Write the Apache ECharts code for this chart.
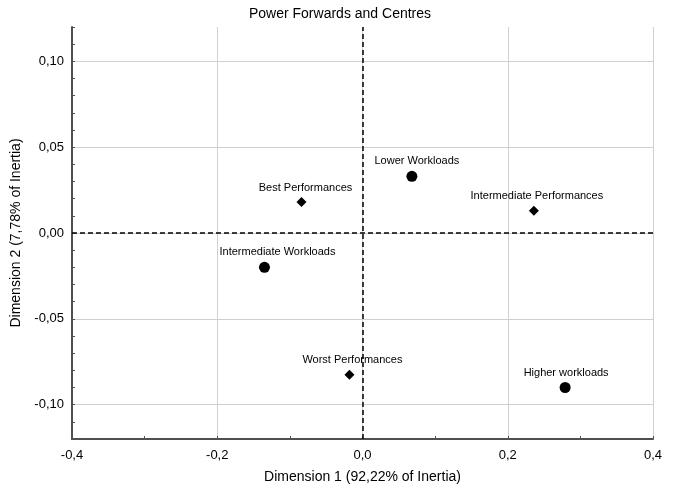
<!DOCTYPE html>
<html>
<head>
<meta charset="utf-8">
<script src="https://cdn.jsdelivr.net/npm/echarts@6/dist/echarts.min.js"></script>
<style>
  html, body { margin: 0; padding: 0; background: #fff; }
  #main { width: 680px; height: 490px; }
</style>
</head>
<body>
<div id="main"></div>
<script>
// workload categories (circles)
const workloadNames = ["Lower Workloads", "Intermediate Workloads", "Higher workloads"];
const workloadX = [0.068, -0.135, 0.279];
const workloadY = [0.033, -0.020, -0.090];

// performance categories (diamonds)
const performanceNames = ["Best Performances", "Intermediate Performances", "Worst Performances"];
const performanceX = [-0.084, 0.236, -0.018];
const performanceY = [0.018, 0.013, -0.0825];

// axis ticks
const xTicks = [-0.4, -0.2, 0, 0.2, 0.4];
const yTicks = [-0.10, -0.05, 0, 0.05, 0.10];

// small nudges so labels sit where they are in the picture
const labelShift = {
  "Lower Workloads": 5,
  "Intermediate Workloads": 13,
  "Higher workloads": 1,
  "Best Performances": 4,
  "Intermediate Performances": 3,
  "Worst Performances": 3,
};

let comma = (v, d) => {
  let s = (Math.abs(v) < 1e-9 ? 0 : v).toFixed(d);
  return s.replace(".", ",");
};

let points = (names, xs, ys) =>
  names.map((n, i) => ({
    name: n,
    value: [xs[i], ys[i]],
    label: { offset: [labelShift[n] || 0, 0] },
  }));

let labelStyle = {
  show: true,
  position: "top",
  distance: 4,
  formatter: "{b}",
  color: "#000",
  fontSize: 11,
  fontFamily: "Liberation Sans, Arial, sans-serif",
};

let tickStyle = { show: true, inside: true, length: 3, lineStyle: { color: "#505050" } };

let option = {
  animation: false,
  textStyle: { fontFamily: "Liberation Sans, Arial, sans-serif" },
  title: {
    text: "Power Forwards and Centres",
    left: "center",
    top: 2,
    textStyle: { fontSize: 14, fontWeight: "normal", color: "#000" },
  },
  grid: { left: 72, right: 27, top: 27, bottom: 51 },
  xAxis: [
    {
      type: "value",
      min: xTicks[0],
      max: xTicks[xTicks.length - 1],
      interval: 0.2,
      name: "Dimension 1 (92,22% of Inertia)",
      nameLocation: "middle",
      nameGap: 31,
      nameTextStyle: { fontSize: 14, color: "#000" },
      axisLine: { onZero: false, lineStyle: { color: "#505050", width: 2 } },
      axisTick: tickStyle,
      axisLabel: {
        color: "#000",
        fontSize: 13,
        margin: 10,
        formatter: (v) => comma(v, 1),
      },
      splitLine: { show: true, lineStyle: { color: "#d0d0d0", width: 1 } },
    },
    {
      // minor ticks every 0.1
      type: "value",
      min: xTicks[0],
      max: xTicks[xTicks.length - 1],
      interval: 0.1,
      position: "bottom",
      axisLine: { show: false, onZero: false },
      axisTick: tickStyle,
      axisLabel: { show: false },
      splitLine: { show: false },
    },
  ],
  yAxis: [
    {
      type: "value",
      min: -0.12,
      max: 0.12,
      name: "Dimension 2 (7,78% of Inertia)",
      nameLocation: "middle",
      nameGap: 46,
      nameTextStyle: { fontSize: 14, color: "#000" },
      axisLine: { show: true, onZero: false, lineStyle: { color: "#505050", width: 2 } },
      axisTick: Object.assign({}, tickStyle, { customValues: yTicks }),
      axisLabel: {
        color: "#000",
        fontSize: 13,
        margin: 8,
        customValues: yTicks,
        formatter: (v) => comma(v, 2),
      },
      splitLine: { show: true, lineStyle: { color: "#d0d0d0", width: 1 } },
    },
    {
      // minor ticks every 0.01
      type: "value",
      min: -0.12,
      max: 0.12,
      interval: 0.01,
      position: "left",
      axisLine: { show: false, onZero: false },
      axisTick: tickStyle,
      axisLabel: { show: false },
      splitLine: { show: false },
    },
  ],
  series: [
    {
      name: "Workloads",
      type: "scatter",
      symbol: "circle",
      symbolSize: 11,
      itemStyle: { color: "#000", opacity: 1 },
      label: labelStyle,
      data: points(workloadNames, workloadX, workloadY),
      markLine: {
        silent: true,
        symbol: "none",
        label: { show: false },
        lineStyle: { color: "#000", type: [5, 3], width: 1.5, opacity: 1 },
        data: [{ xAxis: 0 }, { yAxis: 0 }],
      },
    },
    {
      name: "Performances",
      type: "scatter",
      symbol: "diamond",
      symbolSize: [10, 10],
      itemStyle: { color: "#000", opacity: 1 },
      label: labelStyle,
      data: points(performanceNames, performanceX, performanceY),
    },
  ],
};

var myChart = echarts.init(document.getElementById("main"));
myChart.setOption(option);
</script>
</body>
</html>
